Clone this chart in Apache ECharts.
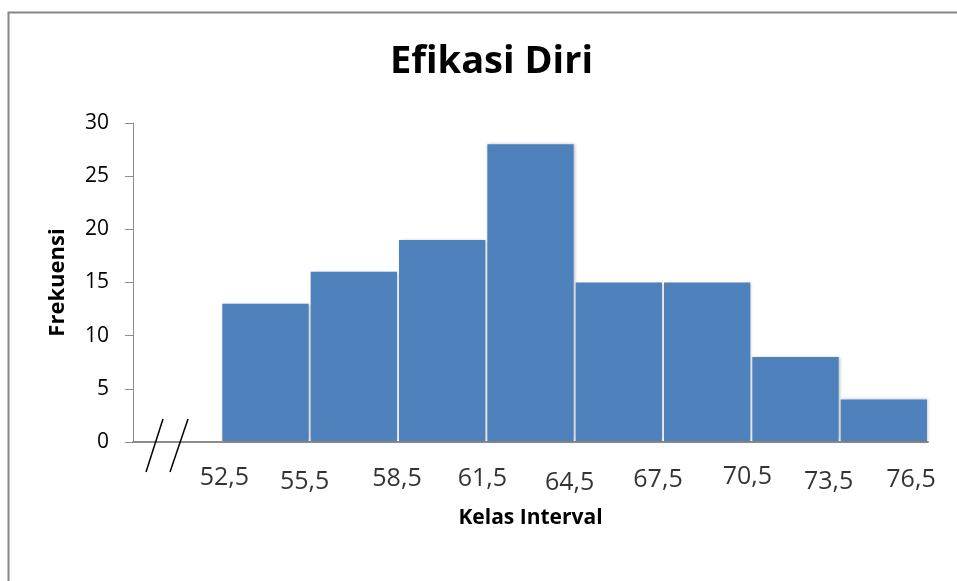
<!DOCTYPE html>
<html>
<head>
<meta charset="utf-8">
<title>Efikasi Diri</title>
<script src="https://cdn.jsdelivr.net/npm/echarts@6/dist/echarts.min.js"></script>
<style>
  html, body { margin: 0; padding: 0; background: #fff; }
  #chart { width: 957px; height: 581px; }
</style>
</head>
<body>
<div id="chart"></div>
<script>
// class boundaries and frequencies
var edges = [52.5, 55.5, 58.5, 61.5, 64.5, 67.5, 70.5, 73.5, 76.5];
var edgeLabels = ['52,5', '55,5', '58,5', '61,5', '64,5', '67,5', '70,5', '73,5', '76,5'];
var freq = [13, 16, 19, 28, 15, 15, 8, 4];
var yTicks = [0, 5, 10, 15, 20, 25, 30];

// small hand nudges of the tick labels, like in the original sheet
var labelNudge = [[3, -1], [-5, 3], [-1, 0], [-4, 0], [-5, 4], [-5, 1], [-4, -2], [-11, 3], [-17, 1]];

var chart = echarts.init(document.getElementById('chart'));

var barData = [];
for (var i = 0; i < freq.length; i++) {
    barData.push([edges[i], edges[i + 1], freq[i]]);
}

var labelData = [];
for (var j = 0; j < edges.length; j++) {
    labelData.push({
        value: [edges[j], 0],
        label: { formatter: edgeLabels[j], offset: [labelNudge[j][0], 37 + labelNudge[j][1]] }
    });
}

var option = {
    backgroundColor: '#fff',
    animation: false,
    textStyle: { fontFamily: 'Open Sans', color: '#000' },
    title: {
        text: 'Efikasi Diri',
        left: 385,
        top: 38,
        textStyle: { fontFamily: 'Open Sans', fontWeight: 'bold', fontSize: 38, color: '#000' }
    },
    grid: { left: 133, right: 29, top: 123, bottom: 139 },
    xAxis: {
        type: 'value',
        min: 49.5,
        max: 76.5,
        name: 'Kelas Interval',
        nameLocation: 'middle',
        nameGap: 66,
        nameTextStyle: { fontFamily: 'Open Sans', fontWeight: 'bold', fontSize: 21, color: '#000' },
        axisLine: { lineStyle: { color: '#8c8c8c', width: 2 } },
        axisTick: { show: false },
        axisLabel: { show: false },
        splitLine: { show: false }
    },
    yAxis: {
        type: 'value',
        min: yTicks[0],
        max: yTicks[yTicks.length - 1],
        interval: 5,
        name: 'Frekuensi',
        nameLocation: 'middle',
        nameGap: 64,
        nameRotate: 90,
        nameTextStyle: { fontFamily: 'Open Sans', fontWeight: 'bold', fontSize: 22, color: '#000' },
        axisLine: { show: true, lineStyle: { color: '#8c8c8c', width: 1 } },
        axisTick: { show: true, length: 8, lineStyle: { color: '#8c8c8c' } },
        axisLabel: { fontFamily: 'Open Sans', fontSize: 21, color: '#000', margin: 24 },
        splitLine: { show: false }
    },
    graphic: [
        {
            type: 'polyline',
            shape: { points: [[8.5, 581], [8.5, 12.5], [957, 12.5]] },
            style: { stroke: '#868686', lineWidth: 2, fill: null }
        },
        { type: 'line', z: 100, shape: { x1: 146, y1: 472, x2: 163, y2: 419 }, style: { stroke: '#000', lineWidth: 1.5 } },
        { type: 'line', z: 100, shape: { x1: 170, y1: 472, x2: 188, y2: 419 }, style: { stroke: '#000', lineWidth: 1.5 } }
    ],
    series: [
        {
            type: 'custom',
            data: barData,
            encode: { x: [0, 1], y: 2 },
            renderItem: function (params, api) {
                var p0 = api.coord([api.value(0), api.value(2)]);
                var p1 = api.coord([api.value(1), 0]);
                return {
                    type: 'rect',
                    shape: { x: p0[0] + 1, y: p0[1], width: p1[0] - p0[0] - 2, height: p1[1] - p0[1] - 1 },
                    style: {
                        fill: '#4f81bd',
                        shadowBlur: 3,
                        shadowColor: 'rgba(0,0,0,0.25)',
                        shadowOffsetX: 1,
                        shadowOffsetY: 0
                    }
                };
            }
        },
        {
            type: 'scatter',
            data: labelData,
            symbolSize: 0,
            silent: true,
            label: {
                show: true,
                position: 'inside',
                fontFamily: 'Open Sans',
                fontSize: 25,
                color: '#000'
            }
        }
    ]
};

chart.setOption(option);
</script>
</body>
</html>
